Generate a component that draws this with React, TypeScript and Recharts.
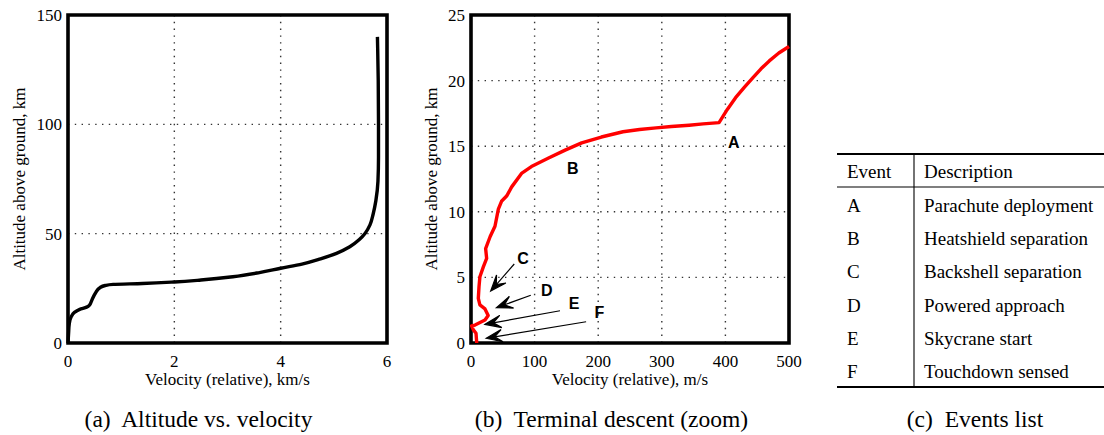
import {
  CartesianGrid,
  Line,
  LineChart,
  ReferenceArea,
  ReferenceDot,
  ReferenceLine,
  XAxis,
  YAxis,
} from "recharts";

const SERIF = '"Liberation Serif", "Times New Roman", serif';
const SANS = '"Liberation Sans", Arial, sans-serif';

// Entry trajectory: relative velocity (km/s) against altitude (km)
const entryVelocity = [
  0, 0.01, 0.025, 0.06, 0.12, 0.22, 0.35, 0.4, 0.45, 0.52, 0.6, 0.7, 0.85, 1.4, 2.0, 2.5,
  3.1, 3.6, 4.0, 4.4, 4.75, 5.05, 5.3, 5.48, 5.59, 5.68, 5.74, 5.79, 5.83, 5.84, 5.84,
  5.835, 5.82,
];
const entryAltitude = [
  0, 4, 9, 12, 14, 15.4, 16.4, 17.2, 19.7, 23, 25.3, 26.3, 26.8, 27.2, 27.9, 28.8,
  30.3, 32.2, 34.2, 36.1, 38.5, 41, 44, 47.3, 50.2, 54, 59, 65, 74, 85, 100, 120, 140,
];

// Terminal descent: relative velocity (m/s) against altitude (km)
const descentVelocity = [
  500, 484, 469, 456, 443, 430, 416, 403, 390, 365, 343, 315, 291, 265, 239, 205, 174, 148,
  122, 95, 80, 64, 56, 48, 43, 37.7, 30, 23, 24.6, 19.4, 14, 12.6, 11.5, 14, 22, 27, 22,
  6.3, 1, 3.7, 7.9, 9,
];
const descentAltitude = [
  22.6, 22.1, 21.5, 20.9, 20.2, 19.5, 18.7, 17.8, 16.8, 16.7, 16.6, 16.5, 16.4, 16.27, 16.1,
  15.7, 15.25, 14.7, 14.1, 13.45, 12.95, 11.9, 11.2, 10.8, 10.2, 8.9, 8.1, 7.2, 6.45, 5.8,
  5.05, 4.3, 3.4, 2.9, 2.6, 2.1, 1.75, 1.37, 1.3, 1.0, 0.74, 0,
];

const entryXTicks = [0, 2, 4, 6];
const entryYTicks = [0, 50, 100, 150];
const descentXTicks = [0, 100, 200, 300, 400, 500];
const descentYTicks = [0, 5, 10, 15, 20, 25];

const eventIds = ["A", "B", "C", "D", "E", "F"];
const eventDescriptions = [
  "Parachute deployment",
  "Heatshield separation",
  "Backshell separation",
  "Powered approach",
  "Skycrane start",
  "Touchdown sensed",
];
const eventLabelVelocity = [413, 160, 82, 119, 162, 202];
const eventLabelAltitude = [15.3, 13.3, 6.45, 3.99, 3.0, 2.31];

// C..F get arrows pointing back at the descent curve
const arrowTailVelocity = [68, 94, 140, 181];
const arrowTailAltitude = [6.02, 3.64, 2.46, 1.62];
const arrowHeadVelocity = [31, 40, 22, 24];
const arrowHeadAltitude = [3.96, 2.69, 1.42, 0.36];

const captions = [
  "(a)  Altitude vs. velocity",
  "(b)  Terminal descent (zoom)",
  "(c)  Events list",
];

const entryData = entryVelocity.map((v, i) => ({ v, alt: entryAltitude[i] }));
const descentData = descentVelocity.map((v, i) => ({ v, alt: descentAltitude[i] }));

const tickStyle = { fontSize: 17, fill: "#000", fontFamily: SERIF };
const titleStyle = { fontSize: 17, fill: "#000", fontFamily: SERIF };
const gridProps = {
  stroke: "#333",
  strokeWidth: 1.4,
  strokeDasharray: "1.4 5.4",
};

function Arrow(props: any) {
  const { x1, y1, x2, y2 } = props;
  const dx = x2 - x1;
  const dy = y2 - y1;
  const len = Math.hypot(dx, dy) || 1;
  const ux = dx / len;
  const uy = dy / len;
  const nx = -uy;
  const ny = ux;
  const head = 16;
  const half = 6.2;
  const notch = 8.5;
  const bx = x2 - ux * head;
  const by = y2 - uy * head;
  const pts = [
    [x2, y2],
    [bx + nx * half, by + ny * half],
    [x2 - ux * notch, y2 - uy * notch],
    [bx - nx * half, by - ny * half],
  ]
    .map((p) => p.join(","))
    .join(" ");
  return (
    <g>
      <line
        x1={x1}
        y1={y1}
        x2={x2 - ux * notch}
        y2={y2 - uy * notch}
        stroke="#000"
        strokeWidth={1.2}
      />
      <polygon points={pts} fill="#000" stroke="#000" strokeWidth={1.2} strokeLinejoin="miter" />
    </g>
  );
}

function EventLetter(props: any) {
  const { cx, cy, letter } = props;
  return (
    <text
      x={cx}
      y={cy}
      textAnchor="middle"
      dominantBaseline="central"
      fontFamily={SANS}
      fontWeight="bold"
      fontSize={16}
      fill="#000"
    >
      {letter}
    </text>
  );
}

function EntryChart() {
  return (
    <LineChart
      width={400}
      height={400}
      data={entryData}
      margin={{ top: 15, right: 13, left: 0, bottom: 0 }}
    >
      <CartesianGrid {...gridProps} />
      <XAxis
        type="number"
        dataKey="v"
        domain={[0, 6]}
        ticks={entryXTicks}
        axisLine={false}
        tickLine={false}
        tickSize={0}
        tickMargin={12}
        height={57}
        tick={tickStyle}
        label={{
          value: "Velocity (relative), km/s",
          position: "insideBottom",
          offset: 15,
          style: titleStyle,
        }}
      />
      <YAxis
        type="number"
        domain={[0, 150]}
        ticks={entryYTicks}
        axisLine={false}
        tickLine={false}
        tickSize={0}
        tickMargin={6}
        width={68}
        tick={tickStyle}
        label={{
          value: "Altitude above ground, km",
          angle: -90,
          position: "insideLeft",
          offset: 19,
          style: { ...titleStyle, textAnchor: "middle" },
        }}
      />
      <ReferenceArea
        x1={0}
        x2={6}
        y1={0}
        y2={150}
        fill="none"
        stroke="#000"
        strokeWidth={3.6}
        ifOverflow="visible"
      />
      <Line
        type="monotoneY"
        dataKey="alt"
        stroke="#000"
        strokeWidth={3.4}
        dot={false}
        isAnimationActive={false}
      />
    </LineChart>
  );
}

function DescentChart() {
  return (
    <LineChart
      width={420}
      height={400}
      data={descentData}
      margin={{ top: 15, right: 31, left: 0, bottom: 0 }}
    >
      <CartesianGrid {...gridProps} />
      <XAxis
        type="number"
        dataKey="v"
        domain={[0, 500]}
        ticks={descentXTicks}
        axisLine={false}
        tickLine={false}
        tickSize={0}
        tickMargin={12}
        height={57}
        tick={tickStyle}
        label={{
          value: "Velocity (relative), m/s",
          position: "insideBottom",
          offset: 15,
          style: titleStyle,
        }}
      />
      <YAxis
        type="number"
        domain={[0, 25]}
        ticks={descentYTicks}
        axisLine={false}
        tickLine={false}
        tickSize={0}
        tickMargin={6}
        width={71}
        tick={tickStyle}
        label={{
          value: "Altitude above ground, km",
          angle: -90,
          position: "insideLeft",
          offset: 31,
          style: { ...titleStyle, textAnchor: "middle" },
        }}
      />
      <ReferenceArea
        x1={0}
        x2={500}
        y1={0}
        y2={25}
        fill="none"
        stroke="#000"
        strokeWidth={3.6}
        ifOverflow="visible"
      />
      <Line
        type="linear"
        dataKey="alt"
        stroke="#ff0000"
        strokeWidth={3.4}
        strokeLinejoin="round"
        dot={false}
        isAnimationActive={false}
      />
      {arrowTailVelocity.map((tv, i) => (
        <ReferenceLine
          key={`arrow-${i}`}
          segment={[
            { x: tv, y: arrowTailAltitude[i] },
            { x: arrowHeadVelocity[i], y: arrowHeadAltitude[i] },
          ]}
          ifOverflow="visible"
          shape={(p: any) => <Arrow {...p} />}
        />
      ))}
      {eventIds.map((id, i) => (
        <ReferenceDot
          key={`evt-${id}`}
          x={eventLabelVelocity[i]}
          y={eventLabelAltitude[i]}
          r={0}
          ifOverflow="visible"
          shape={(p: any) => <EventLetter {...p} letter={id} />}
        />
      ))}
    </LineChart>
  );
}

// Events table and the three sub-figure captions
function Overlay() {
  const left = 837;
  const right = 1104;
  const divider = 914;
  const top = 154;
  const headerRule = 187;
  const bottom = 387;
  const rowStep = 33.3;
  const firstBaseline = 211.7;
  const captionX = [198.5, 611.5, 975];
  return (
    <svg
      width={1104}
      height={435}
      style={{ position: "absolute", left: 0, top: 0, pointerEvents: "none" }}
    >
      <line x1={left} x2={right} y1={top} y2={top} stroke="#000" strokeWidth={1.8} />
      <line x1={left} x2={right} y1={headerRule} y2={headerRule} stroke="#000" strokeWidth={1.1} />
      <line x1={left} x2={right} y1={bottom} y2={bottom} stroke="#000" strokeWidth={1.8} />
      <line x1={divider} x2={divider} y1={top} y2={bottom} stroke="#000" strokeWidth={1.1} />
      <g fontFamily={SERIF} fontSize={19} fill="#000">
        <text x={847} y={178}>Event</text>
        <text x={924} y={178}>Description</text>
        {eventIds.map((id, i) => (
          <g key={id}>
            <text x={847} y={firstBaseline + i * rowStep}>{id}</text>
            <text x={924} y={firstBaseline + i * rowStep}>{eventDescriptions[i]}</text>
          </g>
        ))}
      </g>
      <g fontFamily={SERIF} fontSize={23.5} fill="#000" textAnchor="middle">
        {captions.map((c, i) => (
          <text
            key={c}
            x={captionX[i]}
            y={426.5}
            xmlSpace="preserve"
            style={{ whiteSpace: "pre" }}
          >
            {c}
          </text>
        ))}
      </g>
    </svg>
  );
}

export default function App() {
  return (
    <div
      style={{
        position: "absolute",
        left: 0,
        top: 0,
        width: 1104,
        height: 435,
        background: "#fff",
        overflow: "hidden",
      }}
    >
      <div style={{ position: "absolute", left: 0, top: 0 }}>
        <EntryChart />
      </div>
      <div style={{ position: "absolute", left: 400, top: 0 }}>
        <DescentChart />
      </div>
      <Overlay />
    </div>
  );
}
